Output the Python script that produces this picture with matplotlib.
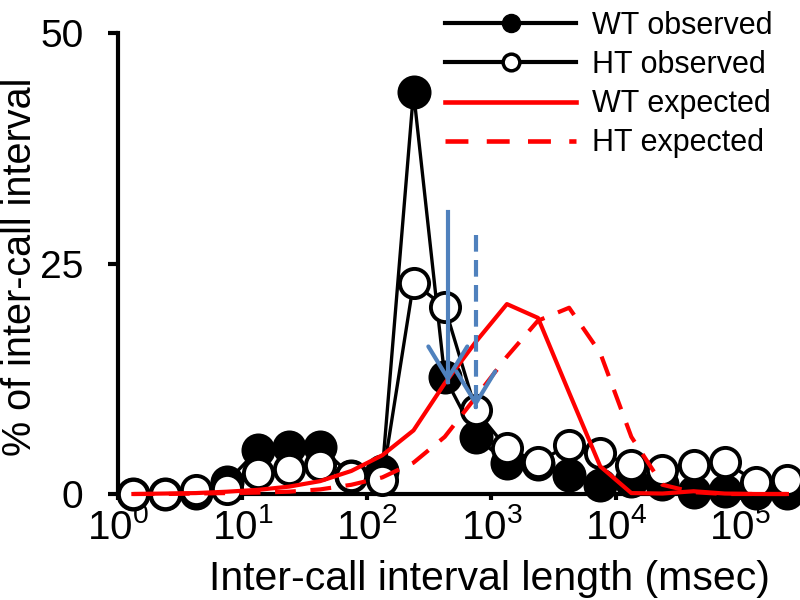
import matplotlib
matplotlib.use("Agg")
import matplotlib.pyplot as plt
from matplotlib.lines import Line2D
from matplotlib.ticker import LogLocator, NullLocator

plt.rcParams['font.family'] = ['Liberation Sans', 'DejaVu Sans']
plt.rcParams['mathtext.fontset'] = 'custom'
plt.rcParams['mathtext.rm'] = 'Liberation Sans'
plt.rcParams['mathtext.it'] = 'Liberation Sans:italic'
plt.rcParams['mathtext.bf'] = 'Liberation Sans:bold'

# bin centres (msec), quarter-decade bins
bins = [1.33, 2.37, 4.22, 7.50, 13.3, 23.7, 42.2, 75.0, 133, 237, 422,
        750, 1334, 2371, 4217, 7499, 13335, 23714, 42170, 74989, 133352, 237137]

# % of inter-call intervals
wt_obs = [0, 0, 0.1, 1.3, 4.8, 5.1, 5.1, 2.0, 2.5, 43.6, 12.7,
          6.2, 3.4, 3.2, 2.1, 1.0, 1.4, 1.1, 0.2, 0.3, 0.1, 0.1]
ht_obs = [0, 0, 0.4, 0.5, 2.3, 2.7, 3.15, 1.9, 1.5, 22.9, 20.3,
          9.1, 4.95, 3.5, 5.3, 4.4, 3.15, 2.6, 3.15, 3.5, 1.35, 1.5]
wt_exp = [0, 0.05, 0.1, 0.25, 0.45, 0.8, 1.4, 2.5, 4.2, 6.9, 12.0,
          16.5, 20.6, 19.1, 11.0, 3.0, 0.1, 0.05, 0.3, 0.05, 0, 0]
ht_exp = [0, 0, 0.05, 0.1, 0.15, 0.25, 0.5, 1.0, 1.8, 3.4, 6.2,
          10.5, 14.9, 18.8, 20.2, 15.3, 6.2, 1.0, 0.2, 0, 0, 0]

# blue arrows: x position, top and tip (% units)
arrow_x = [447, 750]
arrow_top = [30.6, 28.1]
arrow_tip = [12.1, 9.4]
arrow_ls = ['-', (0, (4, 2))]

labels = ['WT observed', 'HT observed', 'WT expected', 'HT expected']
blue = '#4F81BD'

fig = plt.figure(figsize=(8, 6), dpi=100)
ax = fig.add_axes([118/800, 1-494/600, 672/800, 461/600])

ax.plot(bins, wt_obs, color='black', lw=2.4, marker='o', ms=22,
        mfc='black', mec='black', mew=2.5, clip_on=False, zorder=3)
ax.plot(bins, ht_obs, color='black', lw=2.4, marker='o', ms=21,
        mfc='white', mec='black', mew=2.8, clip_on=False, zorder=4)
ax.plot(bins, wt_exp, color='red', lw=3, clip_on=False, zorder=5)
ax.plot(bins, ht_exp, color='red', lw=3, ls=(0, (5, 3.5)), clip_on=False, zorder=5)

for x, top, tip, ls in zip(arrow_x, arrow_top, arrow_tip, arrow_ls):
    ax.plot([x, x], [top, tip], color=blue, lw=3, ls=ls, zorder=6)
    ax.annotate('', xy=(x, tip), xytext=(x, tip + 0.05),
                arrowprops=dict(arrowstyle='->,head_length=1.15,head_width=0.7',
                                color=blue, lw=3, mutation_scale=20,
                                shrinkA=0, shrinkB=0), zorder=6)

ax.set_xscale('log')
ax.set_xlim(1, 10**5.4)
ax.set_ylim(0, 50)
ax.set_yticks([0, 25, 50])
ax.xaxis.set_major_locator(LogLocator(base=10, numticks=20))
ax.xaxis.set_minor_locator(NullLocator())

for s in ['top', 'right']:
    ax.spines[s].set_visible(False)
for s in ['left', 'bottom']:
    ax.spines[s].set_linewidth(3)

ax.tick_params(axis='y', length=7, width=3, pad=18, labelsize=28)
ax.tick_params(axis='x', length=4, width=3, pad=6, labelsize=29)

ax.set_xlabel('Inter-call interval length (msec)', fontsize=29.5)
ax.set_ylabel('% of inter-call interval', fontsize=28.5)
ax.xaxis.set_label_coords(0.552, -0.143)
ax.yaxis.set_label_coords(-0.117, 0.492)

handles = [
    Line2D([], [], color='black', lw=3, marker='o', ms=13, mfc='black', mec='black'),
    Line2D([], [], color='black', lw=3, marker='o', ms=12, mfc='white', mec='black', mew=2.5),
    Line2D([], [], color='red', lw=3.3),
    Line2D([], [], color='red', lw=3.3, ls=(0, (5, 4))),
]
fig.legend(handles, labels, loc='upper left', bbox_to_anchor=(445/800, 1 - 11/600),
           frameon=False, fontsize=22, handlelength=4.3, handletextpad=0.5,
           labelspacing=0.3, borderpad=0, borderaxespad=0)

fig.savefig('out.png', dpi=100)
